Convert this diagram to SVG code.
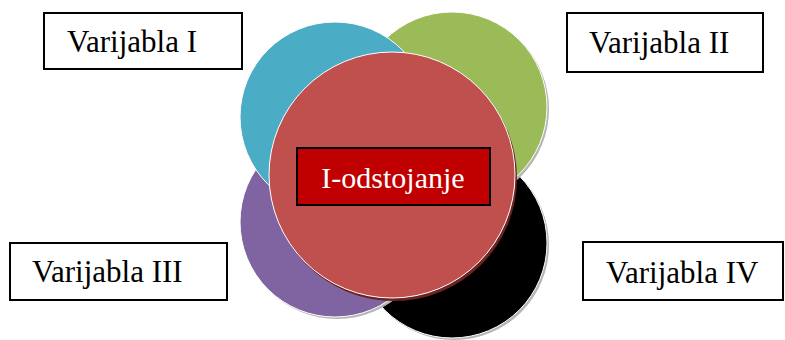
<svg xmlns="http://www.w3.org/2000/svg" width="785" height="340" viewBox="0 0 785 340">
<style>
.box{fill:#fff;stroke:#000;stroke-width:2}
.lbl{font-family:"Liberation Serif","Times New Roman",serif;font-size:31px;fill:#000}
.c{stroke:#fff;stroke-width:1}
.sh{fill:#b5b5b5}
</style>
<rect width="785" height="340" fill="#fff"/>
<g id="circles">
  <g id="circle-black"><circle class="sh" cx="454" cy="245" r="95"/><circle class="c" cx="452" cy="243" r="95" fill="#000"/></g>
  <g id="circle-purple"><circle class="sh" cx="337" cy="224" r="95"/><circle class="c" cx="335" cy="222" r="95" fill="#8064A2"/></g>
  <g id="circle-green"><circle class="sh" cx="454" cy="109" r="95"/><circle class="c" cx="452" cy="107" r="95" fill="#9BBB59"/></g>
  <g id="circle-teal"><circle class="c" cx="335" cy="117" r="95" fill="#4BACC6"/></g>
  <g id="center">
    <circle cx="394" cy="178" r="123" fill="#6b2322"/>
    <circle class="c" cx="392" cy="175" r="123" fill="#C0504D"/>
    <rect x="297" y="148" width="193" height="57" fill="#C00000" stroke="#000" stroke-width="2"/>
    <text x="393" y="188" text-anchor="middle" font-family="'Liberation Serif','Times New Roman',serif" font-size="30" fill="#fff">I-odstojanje</text>
  </g>
</g>
<g id="label-1"><rect class="box" x="44" y="13" width="198" height="56"/><text class="lbl" x="67" y="52">Varijabla I</text></g>
<g id="label-2"><rect class="box" x="567" y="13" width="196" height="59"/><text class="lbl" x="589" y="53">Varijabla II</text></g>
<g id="label-3"><rect class="box" x="10" y="243" width="217" height="57"/><text class="lbl" x="32" y="282">Varijabla III</text></g>
<g id="label-4"><rect class="box" x="583" y="242" width="200" height="58"/><text class="lbl" x="606" y="283">Varijabla IV</text></g>
<g id="connectors"/>
</svg>
